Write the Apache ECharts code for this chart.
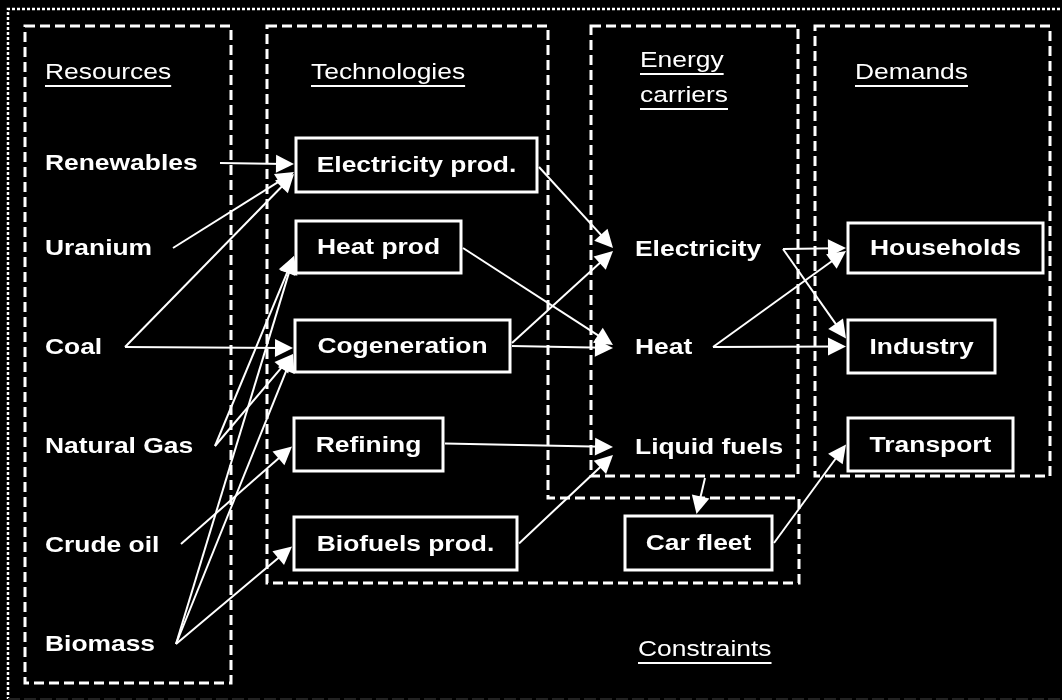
<!DOCTYPE html>
<html>
<head>
<meta charset="utf-8">
<script src="https://cdn.jsdelivr.net/npm/echarts@6/dist/echarts.min.js"></script>
<style>
html, body { margin: 0; padding: 0; background: #000; }
#main { width: 1062px; height: 700px; }
</style>
</head>
<body>
<div id="main"></div>
<script>
// ---- diagram content ----
const headers = ['Resources', 'Technologies', 'Energy\ncarriers', 'Demands', 'Constraints'];
const resources = ['Renewables', 'Uranium', 'Coal', 'Natural Gas', 'Crude oil', 'Biomass'];
const technologies = ['Electricity prod.', 'Heat prod', 'Cogeneration', 'Refining', 'Biofuels prod.'];
const carriers = ['Electricity', 'Heat', 'Liquid fuels'];
const demands = ['Households', 'Industry', 'Transport'];
const constraints = ['Car fleet'];
const links = [
  ['Renewables', 'Electricity prod.'],
  ['Uranium', 'Electricity prod.'],
  ['Coal', 'Electricity prod.'],
  ['Coal', 'Cogeneration'],
  ['Natural Gas', 'Heat prod'],
  ['Natural Gas', 'Cogeneration'],
  ['Crude oil', 'Refining'],
  ['Biomass', 'Heat prod'],
  ['Biomass', 'Cogeneration'],
  ['Biomass', 'Biofuels prod.'],
  ['Electricity prod.', 'Electricity'],
  ['Heat prod', 'Heat'],
  ['Cogeneration', 'Electricity'],
  ['Cogeneration', 'Heat'],
  ['Refining', 'Liquid fuels'],
  ['Biofuels prod.', 'Liquid fuels'],
  ['Electricity', 'Households'],
  ['Electricity', 'Industry'],
  ['Heat', 'Households'],
  ['Heat', 'Industry'],
  ['Liquid fuels', 'Car fleet'],
  ['Car fleet', 'Transport']
];

// ---- layout (diagram units = picture pixels, y downwards) ----
const headerPos = [[45, 73], [311, 73], [640, 61], [855, 73], [638, 650]];
// unboxed labels: [text left, centre y, arrow start x]
const resourcePos = [[45, 163, 220], [45, 248, 173], [45, 347, 125], [45, 446, 215], [45, 545, 181], [45, 644, 176]];
const carrierPos = [[635, 249, 783], [635, 347, 713], [635, 447, 705]];
// boxed labels: [x0, y0, x1, y1]
const techBox = [[296, 138, 537, 192], [296, 221, 461, 273], [295, 320, 510, 372], [294, 418, 443, 471], [294, 517, 517, 570]];
const demandBox = [[848, 223, 1043, 273], [848, 320, 995, 373], [848, 418, 1013, 471]];
const constraintBox = [[625, 516, 772, 570]];
// vertical shift of the arrow ends [start, end]
const linkShift = [
  [0, -1], [0, 7], [0, 9], [0, 2], [0, 9], [0, 8], [-1, 2], [0, 9], [0, 8], [0, 3],
  [2, -1], [1, -2], [-3, 2], [0, 1], [-1, 0], [0, 8],
  [0, 0], [0, -8], [0, 3], [0, 0], [0, 0], [0, 0]
];
// dashed groups
const regions = [
  [[25, 26], [231, 26], [231, 683], [25, 683]],
  [[267, 26], [548, 26], [548, 498], [799, 498], [799, 583], [267, 583]],
  [[591, 26], [798, 26], [798, 476], [591, 476]],
  [[815, 26], [1050, 26], [1050, 476], [815, 476]]
];

const SX = 1.2; // the lettering of the picture is stretched sideways
const HEAD = 18; // arrow head size
const FONT = '"Liberation Sans", Arial, sans-serif';
const measureCtx = document.createElement('canvas').getContext('2d');
const textWidth = (t, weight) => {
  measureCtx.font = weight + ' 22px ' + FONT;
  return measureCtx.measureText(t).width * SX;
};

const nodes = {};
resources.forEach((n, i) => { nodes[n] = { name: n, x: resourcePos[i][0], y: resourcePos[i][1], out: resourcePos[i][2] }; });
carriers.forEach((n, i) => { nodes[n] = { name: n, x: carrierPos[i][0], y: carrierPos[i][1], out: carrierPos[i][2] }; });
const addBoxes = (names, boxes) => names.forEach((n, i) => {
  const b = boxes[i];
  nodes[n] = { name: n, box: b, x: (b[0] + b[2]) / 2, y: (b[1] + b[3]) / 2 };
});
addBoxes(technologies, techBox);
addBoxes(demands, demandBox);
addBoxes(constraints, constraintBox);
const nodeList = Object.values(nodes);

const linkData = links.map((l, i) => {
  const s = nodes[l[0]], t = nodes[l[1]];
  let p0, p1;
  if (l[0] === 'Liquid fuels') {
    p0 = [s.out, s.y + 31];
    p1 = [t.x - 2, t.box[1] - 2];
  } else {
    p0 = [s.box ? s.box[2] + 2 : s.out, s.y + linkShift[i][0]];
    p1 = [t.box ? t.box[0] - 2 : t.x - 22, t.y + linkShift[i][1]];
  }
  // the head is drawn centred on the end point: pull it back so its tip lands there
  const dx = p1[0] - p0[0], dy = p1[1] - p0[1];
  const len = Math.sqrt(dx * dx + dy * dy);
  const end = [p1[0] - dx / len * HEAD / 2, p1[1] - dy / len * HEAD / 2];
  return { coords: [p0, end] };
});

const chart = echarts.init(document.getElementById('main'));

chart.setOption({
  backgroundColor: '#000',
  animation: false,
  grid: { left: 0, right: 0, top: 0, bottom: 0 },
  xAxis: { type: 'value', min: 0, max: 1062, show: false },
  yAxis: { type: 'value', min: 0, max: 700, inverse: true, show: false },
  series: [
    {
      // outer dotted frame
      type: 'custom',
      clip: false,
      z: 1,
      data: [[0]],
      renderItem: function (params, api) {
        const tl = api.coord([8, 9]);
        const tr = api.coord([1070, 9]);
        const bl = api.coord([8, 699]);
        const br = api.coord([1070, 699]);
        return {
          type: 'group',
          children: [
            { type: 'polyline', shape: { points: [tr, tl, bl] }, style: { stroke: '#fff', lineWidth: 2.5, lineDash: [3, 2], fill: null } },
            { type: 'line', shape: { x1: bl[0], y1: bl[1], x2: br[0], y2: br[1] }, style: { stroke: '#222', lineWidth: 2, lineDash: [12, 4] } }
          ]
        };
      }
    },
    {
      // dashed groups
      type: 'custom',
      clip: false,
      z: 2,
      data: regions.map((r, i) => [i]),
      renderItem: function (params, api) {
        const pts = regions[api.value(0)].map(p => api.coord(p));
        return {
          type: 'polygon',
          shape: { points: pts },
          style: { fill: null, stroke: '#fff', lineWidth: 3, lineDash: [10, 5] }
        };
      }
    },
    {
      // arrows
      type: 'lines',
      coordinateSystem: 'cartesian2d',
      z: 3,
      symbol: ['none', 'triangle'],
      symbolSize: HEAD,
      lineStyle: { color: '#fff', width: 2, opacity: 1, curveness: 0 },
      data: linkData
    },
    {
      // nodes
      type: 'custom',
      clip: false,
      z: 4,
      data: nodeList.map((n, i) => [i]),
      renderItem: function (params, api) {
        const n = nodeList[api.value(0)];
        const children = [];
        let align;
        if (n.box) {
          const a = api.coord([n.box[0], n.box[1]]);
          const b = api.coord([n.box[2], n.box[3]]);
          children.push({
            type: 'rect',
            shape: { x: a[0], y: a[1], width: b[0] - a[0], height: b[1] - a[1] },
            style: { fill: '#000', stroke: '#fff', lineWidth: 3 }
          });
          align = 'center';
        } else {
          align = 'left';
        }
        const p = api.coord([n.x, n.y]);
        children.push({
          type: 'text',
          x: p[0], y: p[1] + 1,
          scaleX: SX,
          style: {
            text: n.name, fill: '#fff', fontSize: 22, fontWeight: 'bold', fontFamily: FONT,
            align: align, verticalAlign: 'middle'
          }
        });
        return { type: 'group', children: children };
      }
    },
    {
      // group titles, underlined
      type: 'custom',
      clip: false,
      z: 5,
      data: headers.map((h, i) => [i]),
      renderItem: function (params, api) {
        const i = api.value(0);
        const children = [];
        headers[i].split('\n').forEach((line, k) => {
          const p = api.coord([headerPos[i][0], headerPos[i][1] + k * 35]);
          const w = textWidth(line, 'normal');
          children.push({
            type: 'text',
            x: p[0], y: p[1],
            scaleX: SX,
            style: { text: line, fill: '#fff', fontSize: 22, fontFamily: FONT, align: 'left', verticalAlign: 'middle' }
          });
          children.push({
            type: 'line',
            shape: { x1: p[0], y1: p[1] + 13, x2: p[0] + w, y2: p[1] + 13 },
            style: { stroke: '#fff', lineWidth: 2 }
          });
        });
        return { type: 'group', children: children };
      }
    }
  ]
});
</script>
</body>
</html>
